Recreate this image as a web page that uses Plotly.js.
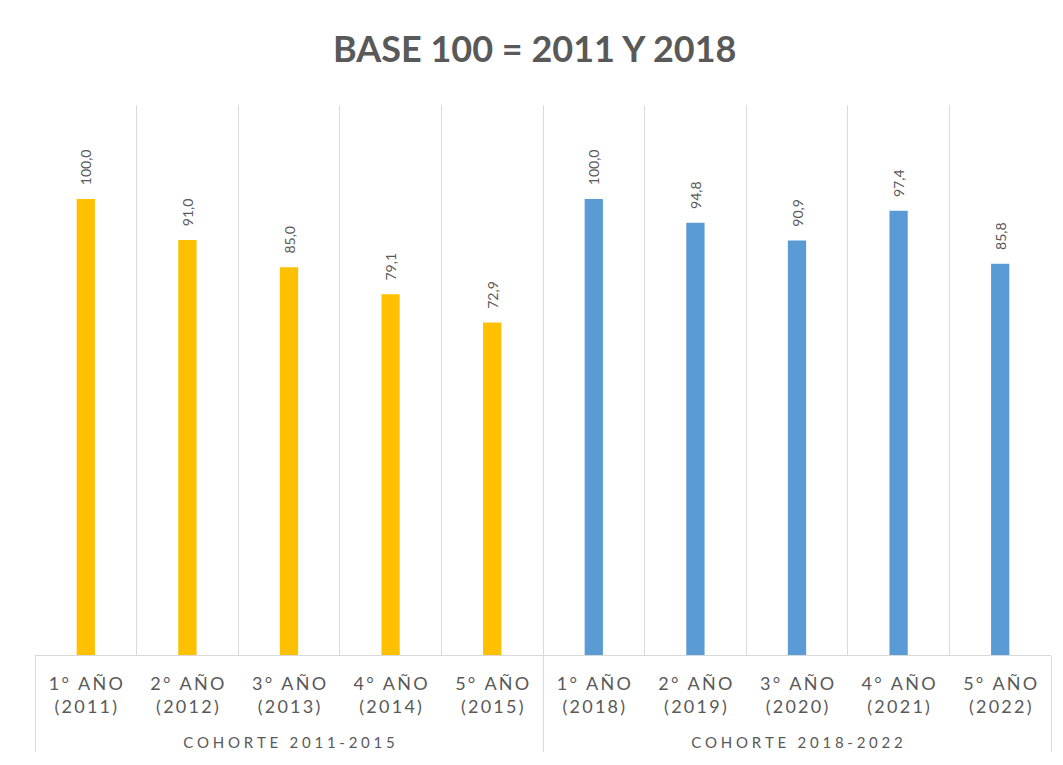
<!DOCTYPE html>
<html>
<head>
<meta charset="utf-8">
<script src="https://cdn.plot.ly/plotly-3.0.1.min.js"></script>
<style>
  html, body { margin: 0; padding: 0; background: #fff; }
  #plotDiv { width: 1063px; height: 765px; }
</style>
</head>
<body>
<div id="plotDiv"></div>
<script>
var grupo1 = 'COHORTE 2011-2015';
var grupo2 = 'COHORTE 2018-2022';

var anios1 = ['1° AÑO|(2011)', '2° AÑO|(2012)', '3° AÑO|(2013)', '4° AÑO|(2014)', '5° AÑO|(2015)'];
var anios2 = ['1° AÑO|(2018)', '2° AÑO|(2019)', '3° AÑO|(2020)', '4° AÑO|(2021)', '5° AÑO|(2022)'];

var valores1 = [100.0, 91.0, 85.0, 79.1, 72.9];
var valores2 = [100.0, 94.8, 90.9, 97.4, 85.8];

// spaced-out lettering like the original (thin spaces between characters)
function espaciar(s, sep) {
  return s.split('|').map(function(linea) {
    return linea.split('').join(sep || '\u2009');
  }).join('<br>');
}

function grupos(nombre, n) {
  var g = [];
  // empty first line pushes the cohort name below the year labels
  var txt = '<br><span style="font-size:15px">' + espaciar(nombre, '\u2009\u2009') + '</span>';
  for (let i = 0; i < n; i++) g.push(txt);
  return g;
}

var fuente = 'Lato, "Open Sans", sans-serif';
var labelFont = { family: fuente, size: 14, color: '#595959' };

function serie(nombre, anios, valores, color) {
  return {
    type: 'bar',
    x: [grupos(nombre, anios.length), anios.map(function(a) { return espaciar(a); })],
    y: valores,
    width: 0.18,
    marker: { color: color },
    texttemplate: '\u00a0\u00a0\u00a0%{y:.1f}',
    textposition: 'outside',
    textangle: -90,
    constraintext: 'none',
    textfont: labelFont,
    cliponaxis: false,
    hoverinfo: 'y'
  };
}

var cohorte1 = serie(grupo1, anios1, valores1, '#FFC000');
var cohorte2 = serie(grupo2, anios2, valores2, '#5B9BD5');

var layout = {
  width: 1063,
  height: 765,
  separators: ',.',
  barmode: 'overlay',
  showlegend: false,
  paper_bgcolor: '#fff',
  plot_bgcolor: '#fff',
  font: { family: fuente, color: '#595959' },
  title: {
    text: '<b>BASE 100 = 2011 Y 2018</b>',
    font: { family: fuente, size: 36, color: '#595959' },
    x: 0.503,
    xanchor: 'center',
    y: 0.935,
    yanchor: 'middle'
  },
  margin: { l: 35, r: 12, t: 105, b: 110, pad: 0 },
  xaxis: {
    type: 'multicategory',
    showgrid: true,
    gridcolor: '#d9d9d9',
    showline: true,
    linecolor: '#d9d9d9',
    linewidth: 1,
    showdividers: true,
    dividercolor: '#d9d9d9',
    dividerwidth: 1,
    ticks: '',
    ticklabelstandoff: 12,
    tickfont: { family: fuente, size: 18, color: '#595959' }
  },
  yaxis: {
    range: [0, 120.6],
    showgrid: false,
    zeroline: false,
    showticklabels: false,
    showline: false,
    ticks: ''
  }
};

Plotly.newPlot('plotDiv', [cohorte1, cohorte2], layout, { displayModeBar: false });
</script>
</body>
</html>
